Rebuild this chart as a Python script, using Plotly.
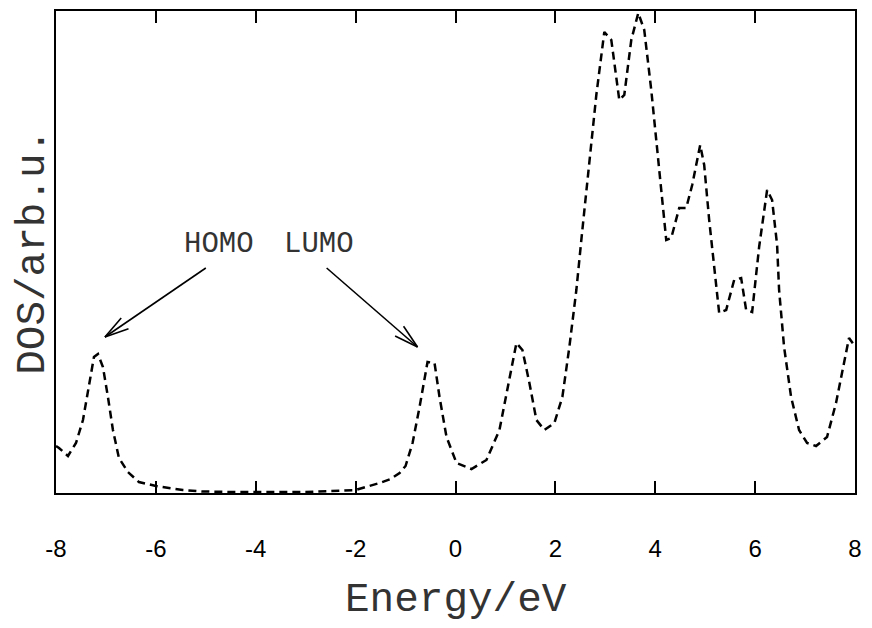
import math
import plotly.graph_objects as go

# ---- data ----
energy = [-8.00, -7.94, -7.76, -7.60, -7.46, -7.34, -7.24, -7.16, -7.06, -6.96, -6.86,
          -6.74, -6.56, -6.34, -6.00, -5.46, -5.06, -4.50, -4.00, -3.50, -3.00, -2.50,
          -2.00, -1.80, -1.52, -1.30, -1.12, -1.00, -0.86, -0.72, -0.56, -0.42, -0.32,
          -0.18, 0.02, 0.32, 0.62, 0.88, 1.08, 1.22, 1.34, 1.48, 1.62, 1.78, 1.98, 2.14,
          2.28, 2.42, 2.54, 2.70, 2.82, 2.98, 3.12, 3.28, 3.38, 3.52, 3.66, 3.78, 3.92,
          4.08, 4.22, 4.32, 4.48, 4.62, 4.74, 4.90, 4.98, 5.08, 5.28, 5.42, 5.58, 5.72,
          5.82, 5.94, 6.08, 6.24, 6.34, 6.44, 6.48, 6.58, 6.72, 6.88, 7.04, 7.22, 7.44,
          7.62, 7.78, 7.88, 7.98]
dos = [47, 45, 37, 50, 73, 106, 136, 139, 126, 96, 63,
       35, 21, 11, 7, 3, 1.5, 1, 1, 1, 1, 2,
       3, 6, 10, 14, 20, 27, 50, 86, 131, 130, 96,
       56, 30, 24, 33, 63, 116, 150, 143, 110, 73, 63, 70, 96,
       146, 203, 263, 343, 398, 461, 453, 393, 398, 453, 480, 463, 403,
       323, 253, 255, 285, 285, 308, 348, 328, 273, 180, 183, 213, 215,
       183, 181, 246, 303, 293, 248, 203, 146, 96, 63, 50, 47, 56,
       90, 130, 155, 148]

x_ticks = [-8, -6, -4, -2, 0, 2, 4, 6, 8]
x_range = [-8, 8]
y_range = [0, 482]

labels = ["HOMO", "LUMO"]
label_x = [-4.74, -2.74]
label_y = [249, 249]
arrow_start_x = [-5.0, -2.58]
arrow_start_y = [225, 225]
arrow_tip_x = [-7.02, -0.76]
arrow_tip_y = [156, 146]

# ---- figure ----
fig = go.Figure()
fig.add_trace(go.Scatter(x=energy, y=dos, mode="lines",
                         line=dict(color="black", width=2.5, dash="8px,5px"),
                         showlegend=False, hoverinfo="skip"))

PX_PER_X = 50.0   # pixels per eV
PX_PER_Y = 1.0    # pixels per y unit
mono = "Courier New, Liberation Mono, monospace"

for lab, lx, ly, sx, sy, tx, ty in zip(labels, label_x, label_y, arrow_start_x,
                                       arrow_start_y, arrow_tip_x, arrow_tip_y):
    fig.add_annotation(x=lx, y=ly, text=lab, showarrow=False, xref="x", yref="y",
                       font=dict(family=mono, size=29, color="#333333"))
    # shaft
    fig.add_shape(type="line", x0=sx, y0=sy, x1=tx, y1=ty, xref="x", yref="y",
                  line=dict(color="black", width=1.6))
    # open arrow head (computed in pixel space)
    dxp = (sx - tx) * PX_PER_X
    dyp = (sy - ty) * PX_PER_Y
    ang = math.atan2(dyp, dxp)
    L = 25
    for s in (-1, 1):
        a = ang + s * math.radians(15)
        bx = tx + L * math.cos(a) / PX_PER_X
        by = ty + L * math.sin(a) / PX_PER_Y
        fig.add_shape(type="line", x0=tx, y0=ty, x1=bx, y1=by, xref="x", yref="y",
                      line=dict(color="black", width=1.6))

# axis titles as annotations
fig.add_annotation(x=0.5, y=-0.222, xref="paper", yref="paper", text="Energy/eV",
                   showarrow=False, yanchor="middle",
                   font=dict(family=mono, size=41, color="#333333"))
fig.add_annotation(x=-0.029, y=0.5, xref="paper", yref="paper", text="DOS/arb.u.",
                   showarrow=False, textangle=-90, xanchor="center",
                   font=dict(family=mono, size=41, color="#333333"))

fig.update_layout(
    width=864, height=620,
    margin=dict(l=48, r=17, t=3, b=135, autoexpand=False),
    paper_bgcolor="white", plot_bgcolor="white",
    xaxis=dict(range=x_range, tickvals=x_ticks, ticktext=[str(v) for v in x_ticks],
               ticks="inside", ticklen=12, tickwidth=1.5, tickcolor="black",
               showline=True, linecolor="black", linewidth=2, mirror="ticks",
               showgrid=False, zeroline=False, ticklabelstandoff=33,
               tickfont=dict(family="Liberation Sans, Arial, sans-serif", size=24,
                             color="black")),
    yaxis=dict(range=y_range, showticklabels=False, ticks="",
               showline=True, linecolor="black", linewidth=2, mirror=True,
               showgrid=False, zeroline=False),
)

fig.write_html("out.html")
